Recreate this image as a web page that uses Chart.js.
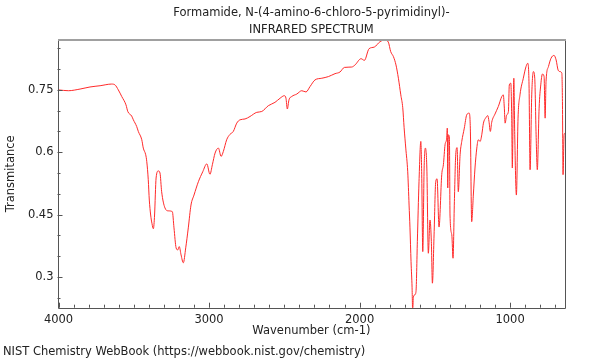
<!DOCTYPE html>
<html>
<head>
<meta charset="utf-8">
<title>IR spectrum</title>
<script src="https://cdn.jsdelivr.net/npm/chart.js@4.4.1/dist/chart.umd.min.js"></script>
<style>
  html, body { margin: 0; padding: 0; background: #fff; }
  #ir-chart { display: block; }
</style>
</head>
<body>
<canvas id="ir-chart" width="600" height="360"></canvas>
<script>
'use strict'

const titleLines = ['Formamide, N-(4-amino-6-chloro-5-pyrimidinyl)-', 'INFRARED SPECTRUM'];
const footerText = 'NIST Chemistry WebBook (https://webbook.nist.gov/chemistry)';

// spectrum (cm-1, transmittance)
const wavenumbers = [
    4002, 3935, 3857, 3791, 3724, 3647, 3625, 3603, 3580, 3552, 3540, 3514, 3503, 3481, 3470,
    3447, 3437, 3421, 3414, 3404, 3397, 3388, 3379, 3370, 3362, 3352, 3337, 3326, 3315, 3293,
    3271, 3244, 3233, 3219, 3208, 3198, 3186, 3171, 3155, 3138, 3120, 3100, 3071, 3042, 3015,
    2994, 2978, 2960, 2938, 2920, 2905, 2883, 2861, 2839, 2816, 2794, 2761, 2728, 2683, 2650,
    2606, 2562, 2528, 2500, 2489, 2480, 2469, 2451, 2417, 2384, 2356, 2329, 2296, 2251, 2207,
    2163, 2130, 2101, 2052, 2030, 1990, 1968, 1937, 1902, 1864, 1831, 1809, 1793, 1775, 1758,
    1742, 1726, 1713, 1704, 1693, 1680, 1671, 1665, 1658, 1651, 1647, 1643, 1633, 1625, 1616,
    1605, 1593, 1587, 1580, 1571, 1563, 1553, 1543, 1532, 1523, 1516, 1505, 1494, 1485, 1472,
    1454, 1443, 1432, 1421, 1417, 1414, 1410, 1403, 1399, 1387, 1379, 1370, 1361, 1352, 1344,
    1332, 1321, 1304, 1288, 1272, 1264, 1255, 1244, 1233, 1221, 1211, 1199, 1188, 1177, 1161,
    1148, 1140, 1131, 1122, 1100, 1078, 1055, 1045, 1038, 1033, 1022, 1011, 1005, 995, 989,
    985, 980, 975, 969, 958, 947, 934, 912, 894, 882, 874, 867, 856, 845, 836,
    827, 819, 807, 796, 785, 774, 767, 761, 745, 728, 708, 694, 681, 668, 656,
    652, 648, 641, 635
];
const transmittance = [
    0.750, 0.748, 0.752, 0.757, 0.760, 0.764, 0.762, 0.750, 0.734, 0.714, 0.698, 0.687, 0.678, 0.662, 0.650,
    0.630, 0.610, 0.594, 0.578, 0.534, 0.485, 0.449, 0.428, 0.416, 0.449, 0.538, 0.555, 0.550, 0.505, 0.466,
    0.459, 0.457, 0.418, 0.370, 0.365, 0.373, 0.353, 0.334, 0.370, 0.418, 0.473, 0.497, 0.529, 0.553, 0.572,
    0.547, 0.570, 0.598, 0.610, 0.590, 0.602, 0.630, 0.643, 0.650, 0.670, 0.678, 0.680, 0.686, 0.696, 0.698,
    0.712, 0.720, 0.730, 0.736, 0.730, 0.704, 0.726, 0.734, 0.740, 0.748, 0.745, 0.758, 0.774, 0.778, 0.782,
    0.789, 0.793, 0.804, 0.805, 0.810, 0.825, 0.821, 0.849, 0.853, 0.866, 0.870, 0.865, 0.842, 0.830, 0.810,
    0.778, 0.738, 0.707, 0.659, 0.610, 0.553, 0.473, 0.418, 0.337, 0.274, 0.215, 0.250, 0.257, 0.265, 0.385,
    0.529, 0.626, 0.546, 0.361, 0.562, 0.610, 0.562, 0.357, 0.437, 0.385, 0.285, 0.401, 0.529, 0.536, 0.420,
    0.546, 0.570, 0.618, 0.634, 0.658, 0.514, 0.642, 0.634, 0.449, 0.401, 0.345, 0.481, 0.594, 0.611, 0.505,
    0.594, 0.626, 0.658, 0.690, 0.694, 0.658, 0.433, 0.497, 0.562, 0.610, 0.630, 0.626, 0.642, 0.670, 0.683,
    0.688, 0.674, 0.650, 0.672, 0.692, 0.710, 0.734, 0.738, 0.706, 0.670, 0.690, 0.698, 0.762, 0.766, 0.682,
    0.562, 0.682, 0.778, 0.642, 0.497, 0.682, 0.738, 0.778, 0.806, 0.814, 0.762, 0.558, 0.738, 0.794, 0.778,
    0.642, 0.558, 0.706, 0.762, 0.788, 0.782, 0.682, 0.770, 0.806, 0.826, 0.833, 0.822, 0.798, 0.794, 0.790,
    0.722, 0.546, 0.642, 0.646
];

const xTickLabels = [1000, 2000, 3000, 4000];
const yTickLabels = [0.3, 0.45, 0.6, 0.75];

Chart.defaults.font.family = "'DejaVu Sans', sans-serif";
Chart.defaults.font.size = 11.5;
Chart.defaults.color = '#222';

const points = wavenumbers.map((wn, i) => ({ x: wn, y: transmittance[i] }));

// frame, inward tick marks, title and footer
const frameAndText = {
    id: 'frameAndText',
    afterDatasetsDraw(chart) {
        const { ctx, chartArea: a, scales: { x, y } } = chart;
        ctx.save();
        ctx.strokeStyle = '#555';
        ctx.lineWidth = 1;
        ctx.beginPath();
        for (let v = 700; v <= 4000; v += 100) {
            const px = Math.round(x.getPixelForValue(v)) + 0.5;
            const len = v % 1000 === 0 ? 5 : 3;
            ctx.moveTo(px, a.bottom);
            ctx.lineTo(px, a.bottom - len);
        }
        for (let k = 5; k <= 17; k++) {
            const py = Math.round(y.getPixelForValue(k * 0.05)) + 0.5;
            const len = k % 3 === 0 ? 5 : 3;
            ctx.moveTo(a.left, py);
            ctx.lineTo(a.left + len, py);
        }
        ctx.stroke();

        ctx.beginPath();
        ctx.moveTo(Math.round(a.left) + 0.5, Math.round(a.top));
        ctx.lineTo(Math.round(a.left) + 0.5, Math.round(a.bottom) + 0.5);
        ctx.lineTo(Math.round(a.right) + 0.5, Math.round(a.bottom) + 0.5);
        ctx.lineTo(Math.round(a.right) + 0.5, Math.round(a.top));
        ctx.stroke();

        ctx.strokeStyle = '#a0a0a0';
        ctx.lineWidth = 2;
        ctx.beginPath();
        ctx.moveTo(Math.round(a.left), Math.round(a.top));
        ctx.lineTo(Math.round(a.right) + 1, Math.round(a.top));
        ctx.stroke();

        ctx.fillStyle = '#222';
        ctx.font = "11.5px 'DejaVu Sans', sans-serif";
        ctx.textAlign = 'center';
        ctx.textBaseline = 'middle';
        const cx = (a.left + a.right) / 2;
        ctx.fillText(titleLines[0], cx, 13);
        ctx.fillText(titleLines[1], cx, 30);
        ctx.textAlign = 'left';
        ctx.fillText(footerText, 3, 352);
        ctx.restore();
    }
};

const ctx = document.getElementById('ir-chart').getContext('2d');
const irChart = new Chart(ctx, {
    type: 'line',
    data: {
        datasets: [{
            label: 'IR',
            data: points,
            borderColor: '#ff2a2a',
            borderWidth: 1,
            pointRadius: 0,
            fill: false,
            cubicInterpolationMode: 'monotone'
        }]
    },
    options: {
        responsive: false,
        animation: false,
        devicePixelRatio: 1,
        layout: { padding: { left: 0, right: 34.7, top: 40, bottom: 22.3 } },
        plugins: {
            legend: { display: false },
            tooltip: { enabled: false }
        },
        scales: {
            x: {
                type: 'linear',
                reverse: true,
                min: 633,
                max: 4007,
                afterBuildTicks: (scale) => { scale.ticks = xTickLabels.map(v => ({ value: v })); },
                afterFit: (scale) => { scale.height = 30; },
                grid: { display: false, drawTicks: false },
                border: { display: false },
                ticks: { padding: 5, maxRotation: 0, autoSkip: false, callback: (v) => String(v) },
                title: { display: true, text: 'Wavenumber (cm-1)', padding: { top: 0, bottom: 0 } }
            },
            y: {
                type: 'linear',
                min: 0.226,
                max: 0.870,
                afterBuildTicks: (scale) => { scale.ticks = yTickLabels.map(v => ({ value: v })); },
                afterFit: (scale) => { scale.width = 57.5; },
                grid: { display: false, drawTicks: false },
                border: { display: false },
                ticks: { padding: 4, autoSkip: false, callback: (v) => String(v) },
                title: { display: true, text: 'Transmitance', padding: { top: 4, bottom: 0 } }
            }
        }
    },
    plugins: [frameAndText]
});
</script>
</body>
</html>
